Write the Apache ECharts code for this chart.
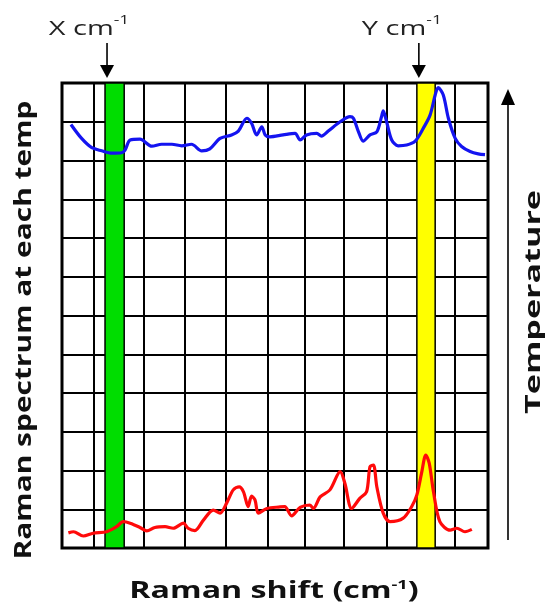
<!DOCTYPE html>
<html>
<head>
<meta charset="utf-8">
<script src="https://cdn.jsdelivr.net/npm/echarts@6/dist/echarts.min.js"></script>
<style>
html,body{margin:0;padding:0;background:#fff;}
#c{width:551px;height:606px;}
</style>
</head>
<body>
<div id="c"></div>
<script>
// Raman shift axis in arbitrary units (0-100), stacked offset axis in grid rows (0-12)
var shiftHigh = [2.1,4.6,7.0,9.3,11.7,14.0,14.8,16.0,18.3,21.1,23.4,25.8,28.1,30.4,32.8,34.7,37.1,39.8,41.4,43.4,44.5,45.7,46.9,47.7,48.8,51.9,54.7,55.9,57.4,59.8,60.9,62.5,65.3,67.6,68.4,69.6,70.7,72.3,73.9,75.0,75.4,76.2,77.4,78.9,80.9,82.9,84.8,86.4,87.6,88.3,89.5,90.7,92.3,93.8,95.8,97.7,99.3];
var spectrumHigh = [10.93,10.57,10.33,10.25,10.19,10.20,10.27,10.53,10.55,10.37,10.42,10.42,10.38,10.42,10.25,10.30,10.57,10.66,10.76,11.09,10.96,10.66,10.87,10.66,10.61,10.66,10.70,10.53,10.66,10.70,10.63,10.76,11.00,11.13,11.09,10.74,10.50,10.66,10.74,11.13,11.28,11.00,10.53,10.38,10.40,10.50,10.83,11.17,11.69,11.88,11.69,11.09,10.57,10.36,10.23,10.17,10.15];
var shiftLow = [1.5,2.7,5.0,7.3,10.5,12.8,14.4,16.0,18.3,19.9,21.8,24.2,26.1,28.5,29.6,31.2,33.2,35.5,37.1,38.7,40.2,41.6,42.6,43.7,44.5,45.3,46.1,48.1,51.2,52.3,53.9,55.9,58.2,59.0,60.6,62.9,65.3,66.4,68.0,69.9,71.5,72.3,73.1,73.9,75.4,77.0,80.1,82.1,83.3,84.4,85.4,86.2,87.2,88.7,91.1,92.7,94.6,96.2];
var spectrumLow = [0.39,0.42,0.31,0.38,0.42,0.55,0.68,0.64,0.53,0.44,0.53,0.55,0.51,0.64,0.51,0.45,0.72,0.98,0.90,1.17,1.50,1.58,1.45,1.07,1.34,1.24,0.90,1.02,1.06,1.07,0.83,1.05,1.11,1.02,1.32,1.50,1.97,1.67,1.02,1.28,1.45,2.10,2.14,1.58,0.90,0.68,0.77,1.07,1.37,1.93,2.40,2.19,1.45,0.68,0.46,0.51,0.42,0.48];
var gridColumns = [7.5,19.2,28.9,38.5,48.4,57.0,66.2,76.3,92.3];
var bandX = [10.1,14.6];
var bandY = [83.3,87.6];
var bandLabels = ['X', 'Y'];
var xTitle = 'Raman shift (cm';
var yTitle = 'Raman spectrum at each temp';
var tempTitle = 'Temperature';

function zip(a,b){return a.map(function(v,i){return [v,b[i]];});}

var chart = echarts.init(document.getElementById('c'));
var option = {
  animation:false,
  grid:{left:62,top:83,width:426,height:465,show:true,borderColor:'#000',borderWidth:3,backgroundColor:'transparent'},
  xAxis:{type:'value',min:0,max:100,axisLine:{show:false},axisTick:{show:false},axisLabel:{show:false},splitLine:{show:false}},
  yAxis:{type:'value',min:0,max:12,interval:1,axisLine:{show:false},axisTick:{show:false},axisLabel:{show:false},
    splitLine:{show:true,lineStyle:{color:'#000',width:2}}},
  series:[
    {type:'line',data:[],z:0,silent:true,
      markLine:{z:0,silent:true,symbol:['none','none'],label:{show:false},
        lineStyle:{color:'#000',width:2,type:'solid'},
        data:gridColumns.map(function(x){return {xAxis:x};})}},
    {type:'line',data:[],z:1,silent:true,
      markArea:{z:1,silent:true,label:{show:false},
        data:[
          [{xAxis:bandX[0],itemStyle:{color:'#00dd00',borderColor:'#000',borderWidth:1.5,opacity:1}},{xAxis:bandX[1]}],
          [{xAxis:bandY[0],itemStyle:{color:'#ffff00',borderColor:'#000',borderWidth:1.5,opacity:1}},{xAxis:bandY[1]}]
        ]}},
    {type:'line',z:3,data:zip(shiftHigh,spectrumHigh),smooth:0.3,symbol:'none',lineStyle:{color:'#1414f0',width:3.2}},
    {type:'line',z:3,data:zip(shiftLow,spectrumLow),smooth:0.3,symbol:'none',lineStyle:{color:'#ff0a0a',width:3.2}}
  ]
};
chart.setOption(option);

var topY = chart.convertToPixel({gridIndex:0},[0,12])[1];
var xc = chart.convertToPixel({gridIndex:0},[bandX[0],12])[0] + 2;
var yc = chart.convertToPixel({gridIndex:0},[bandY[0],12])[0] + 2;
var rightX = chart.convertToPixel({gridIndex:0},[100,0])[0];
var botY = chart.convertToPixel({gridIndex:0},[0,0])[1];

function arrowDown(cx){
  return [
    {type:'line',shape:{x1:cx,y1:topY-40,x2:cx,y2:topY-15},style:{stroke:'#000',lineWidth:1.6}},
    {type:'polygon',shape:{points:[[cx-7,topY-18],[cx+7,topY-18],[cx,topY-5]]},style:{fill:'#000'}}
  ];
}
function bandLabel(cx,name){
  return {type:'text',x:cx,y:topY-56,scaleX:1.45,style:{text:'{a|'+name+' cm}{s|-1}',align:'center',verticalAlign:'middle',
    rich:{a:{fontFamily:'Open Sans',fontSize:20,fill:'#222',verticalAlign:'bottom',lineHeight:24},
          s:{fontFamily:'Open Sans',fontSize:12,fill:'#222',verticalAlign:'top',padding:[0,0,10,0],lineHeight:24}}}};
}
var ax = rightX+20;
var graphics = [].concat(arrowDown(xc),arrowDown(yc),[
  bandLabel(xc-18,bandLabels[0]),
  bandLabel(yc-17,bandLabels[1]),
  {type:'line',shape:{x1:ax,y1:topY+18,x2:ax,y2:botY-8},style:{stroke:'#000',lineWidth:1.6}},
  {type:'polygon',shape:{points:[[ax-7,topY+22],[ax+7,topY+22],[ax,topY+6]]},style:{fill:'#000'}},
  {type:'text',x:274,y:591,scaleX:1.4,style:{text:'{b|'+xTitle+'}{s|-1}{b|)}',align:'center',verticalAlign:'middle',
    rich:{b:{fontFamily:'Open Sans',fontWeight:'bold',fontSize:23,fill:'#111',lineHeight:28},
          s:{fontFamily:'Open Sans',fontWeight:'bold',fontSize:13,fill:'#111',lineHeight:28,padding:[0,0,12,0]}}}},
  {type:'text',x:24,y:330,rotation:Math.PI/2,scaleX:1.3,style:{text:yTitle,align:'center',verticalAlign:'middle',
    fontFamily:'Open Sans',fontWeight:'bold',fontSize:23,fill:'#111'}},
  {type:'text',x:534,y:302,rotation:Math.PI/2,scaleX:1.55,style:{text:tempTitle,align:'center',verticalAlign:'middle',
    fontFamily:'Open Sans',fontWeight:'bold',fontSize:22,fill:'#111'}}
]);
chart.setOption({graphic:graphics});
</script>
</body>
</html>
